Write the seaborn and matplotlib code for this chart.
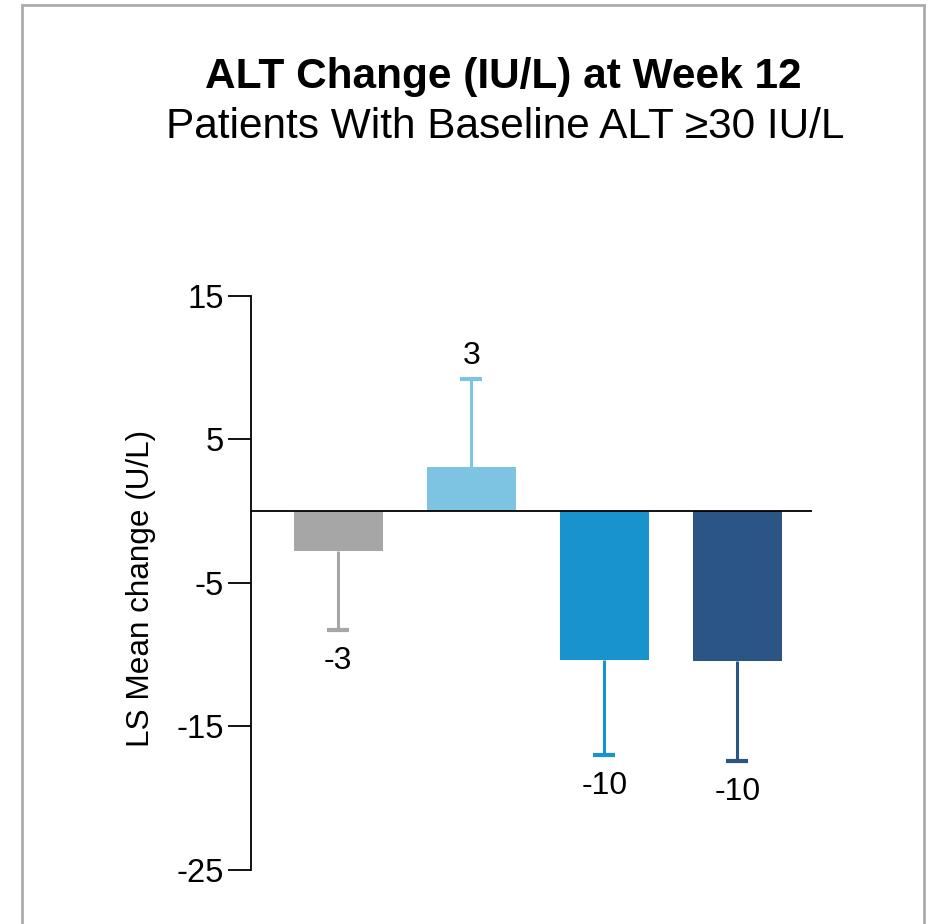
import matplotlib
matplotlib.use("Agg")
import matplotlib.pyplot as plt
from matplotlib.patches import Rectangle
import seaborn as sns
import pandas as pd

# Treatment groups, least-squares mean change and one-sided error length
groups = ["Placebo", "Arm A", "Arm B", "Arm C"]
ls_mean = [-2.77, 3.05, -10.38, -10.43]
err_len = [5.56, 6.15, 6.62, 6.97]
bar_colors = ["#A6A6A6", "#7DC4E2", "#1893CD", "#2B5584"]
y_ticks = [15, 5, -5, -15, -25]

title = "ALT Change (IU/L) at Week 12"
subtitle = "Patients With Baseline ALT \u226530 IU/L"
y_label = "LS Mean change (U/L)"

sns.set_theme(style="white")
plt.rcParams["font.family"] = ["Liberation Sans", "DejaVu Sans"]

df = pd.DataFrame({"group": groups, "change": ls_mean})

W, H, DPI = 932, 924, 100
fig = plt.figure(figsize=(W / DPI, H / DPI), dpi=DPI)
fig.patch.set_facecolor("white")

ax_left, ax_right = 251, 812
ax_top, ax_bottom = 295.7, 869.7
ax = fig.add_axes([ax_left / W, 1 - ax_bottom / H,
                   (ax_right - ax_left) / W, (ax_bottom - ax_top) / H])

sns.barplot(data=df, x="group", y="change", hue="group", palette=bar_colors,
            width=0.667, errorbar=None, legend=False, ax=ax, saturation=1,
            linewidth=0)

# one-sided error bars pointing away from zero, with value labels past the cap
for i, (m, e, c) in enumerate(zip(ls_mean, err_len, bar_colors)):
    if m < 0:
        yerr = [[e], [0]]
        end = m - e
        off = -31
    else:
        yerr = [[0], [e]]
        end = m + e
        off = 23
    _, caps, _ = ax.errorbar(i, m, yerr=yerr, fmt="none", ecolor=c,
                             elinewidth=2.2, capsize=11.5 * 72 / DPI,
                             capthick=3)
    # keep only the cap at the far end of the whisker
    for cap in caps:
        if abs(cap.get_ydata()[0] - end) > 1e-9:
            cap.set_visible(False)
    ax.annotate(f"{round(m):.0f}", xy=(i, end), xytext=(0, off * 72 / DPI),
                textcoords="offset points", ha="center", va="center",
                fontsize=23, color="black")

ax.axhline(0, color="black", lw=1.3, zorder=5)

ax.set_xlim(-0.656, 3.56)
ax.set_ylim(-25, 15)
ax.set_yticks(y_ticks)
ax.set_yticklabels([str(t) for t in y_ticks])
ax.set_xticks([])
ax.set_xlabel("")
ax.set_ylabel(y_label, fontsize=22.7, color="black")
ax.yaxis.set_label_coords(-0.17, 0.49)

for s in ["top", "right", "bottom"]:
    ax.spines[s].set_visible(False)
ax.spines["left"].set_color("black")
ax.spines["left"].set_linewidth(1.3)
ax.spines["left"].set_bounds(-25, 15)
ax.tick_params(axis="y", which="major", left=True, length=16.5, width=1.3,
               color="black", labelsize=23.5, pad=3, labelcolor="black")
ax.set_facecolor("white")

fig.text(503 / W, 1 - 77 / H, title, ha="center", va="center",
         fontsize=30.5, fontweight="bold", color="black")
fig.text(505 / W, 1 - 127 / H, subtitle, ha="center", va="center",
         fontsize=30.5, color="black")

# light grey frame around the panel
fig.patches.append(Rectangle((22 / W, -0.05), (924 - 22) / W, 1 - 5 / H + 0.05,
                             transform=fig.transFigure, fill=False,
                             edgecolor="#ABABAB", linewidth=2.0))

fig.savefig("out.png", dpi=DPI, facecolor="white")
